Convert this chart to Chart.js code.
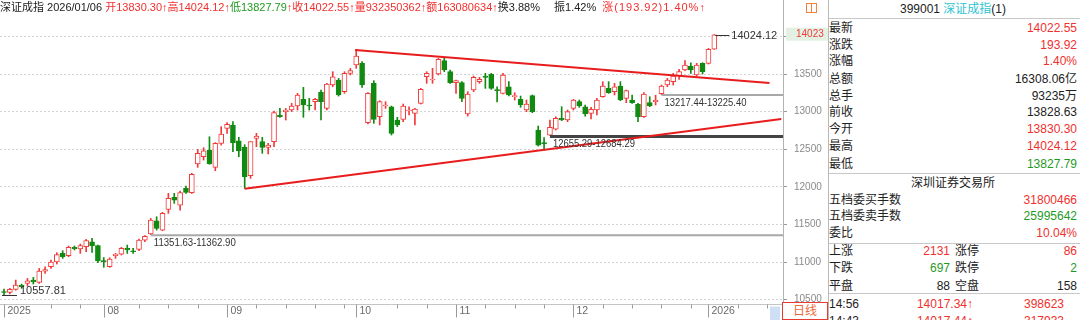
<!DOCTYPE html>
<html><head><meta charset="utf-8">
<script src="https://cdn.jsdelivr.net/npm/chart.js@4.4.1/dist/chart.umd.min.js"></script>
<style>
html,body{margin:0;padding:0;background:#fff;width:1080px;height:320px;overflow:hidden;font-family:"Liberation Sans",Arial,"Noto Sans CJK SC",sans-serif;}
#wrap{position:relative;width:1080px;height:320px;overflow:hidden;}
#c{position:absolute;left:0;top:0;}
#hdr{position:absolute;left:0;top:0;height:15px;line-height:15px;font-size:11px;white-space:nowrap;color:#222;}
.red{color:#f0302e}.grn{color:#1f9a1f}.cy{color:#2ec3d3}
#panel{position:absolute;left:828px;top:0;width:251px;height:320px;border-left:1px solid #b8b8b8;font-size:12px;color:#222;}
.row{position:absolute;left:0;width:248px;height:17px;line-height:17px;white-space:nowrap;}
.row .r{position:absolute;right:0;top:0}
.row .m{position:absolute;top:0}
.sep{position:absolute;left:0;width:251px;height:0;border-top:1px solid #c8c8c8;}
#rx{position:absolute;left:782px;top:302px;width:44px;height:16px;border:1px solid #e83a30;font-size:12px;line-height:16px;text-align:center;color:#ec6a3a;background:#fff;}
#ico{position:absolute;left:806px;top:3px;width:9px;height:8px;border:1px solid #f0823c;}
#ico:after{content:"";position:absolute;left:4px;top:0;width:0;height:8px;border-left:1px solid #f0823c;}
#sb{position:absolute;left:1066px;top:295px;width:12px;height:25px;background:#f2f2f2;border-left:1px solid #bbb;font-size:9px;color:#777;text-align:center;line-height:12px;}
</style>
</head>
<body>
<div id="wrap">
<canvas id="c" width="828" height="320"></canvas>
<div id="hdr"></div>
<div id="ico"></div>
<div id="rx">日线</div>
<div id="panel">
  <div class="row" style="top:1px;text-align:center;">399001 <span class="cy">深证成指</span>(1)</div>
  <div class="sep" style="top:18px"></div>
  <div class="row" style="top:20px">最新<span class="r red">14022.55</span></div>
  <div class="row" style="top:36.5px">涨跌<span class="r red">193.92</span></div>
  <div class="row" style="top:53px">涨幅<span class="r red">1.40%</span></div>
  <div class="row" style="top:70.5px">总额<span class="r">16308.06亿</span></div>
  <div class="row" style="top:87.5px">总手<span class="r">93235万</span></div>
  <div class="row" style="top:104px">前收<span class="r">13828.63</span></div>
  <div class="row" style="top:121px">今开<span class="r red">13830.30</span></div>
  <div class="row" style="top:138px">最高<span class="r red">14024.12</span></div>
  <div class="row" style="top:155.5px">最低<span class="r grn">13827.79</span></div>
  <div class="sep" style="top:173px"></div>
  <div class="row" style="top:175px;text-align:center;">深圳证券交易所</div>
  <div class="row" style="top:191.5px">五档委买手数<span class="r red">31800466</span></div>
  <div class="row" style="top:208px">五档委卖手数<span class="r grn">25995642</span></div>
  <div class="row" style="top:225px">委比<span class="r red">10.04%</span></div>
  <div class="sep" style="top:243px"></div>
  <div class="row" style="top:242.5px">上涨<span class="m red" style="right:127px">2131</span><span class="m" style="left:126px">涨停</span><span class="r red">86</span></div>
  <div class="row" style="top:260px">下跌<span class="m grn" style="right:127px">697</span><span class="m" style="left:126px">跌停</span><span class="r grn">2</span></div>
  <div class="row" style="top:277.5px">平盘<span class="m" style="right:127px">88</span><span class="m" style="left:126px">空盘</span><span class="r">158</span></div>
  <div class="sep" style="top:293px"></div>
  <div class="row" style="top:295.5px">14:56<span class="m red" style="right:104px">14017.34↑</span><span class="r red" style="right:13px">398623</span></div>
  <div class="row" style="top:312.5px">14:43<span class="m red" style="right:104px">14017.44↑</span><span class="r red" style="right:13px">317933</span></div>
  <div id="sb">⇤<br>▲</div>
</div>
</div>
<script>
// ---- data (daily candles, 2025-07 .. 2026-01-06) ----
const opens  = [10605,10596,10636,10690,10716,10760,10729,10880,10937,11000,11115,11084,11195,11173,11204,11270,11217,11020,10937,11084,
11106,11182,11150,11168,11292,11375,11549,11425,11700,11860,11757,11979,11922,12303,12400,12489,12259,12578,12777,12822,
12613,12530,12148,12644,12600,12525,12600,12955,12999,13021,13074,13163,13088,13132,13256,13043,13354,13420,13265,13509,
13620,13642,12853,13376,12932,13074,13065,12888,12897,13008,12977,13110,13464,13420,13500,13677,13531,13385,13385,12968,
13287,13398,13473,13495,13290,13243,13331,13200,13163,13021,13212,12755,12587,12688,12768,12910,12888,13043,13132,13065,
12977,13021,13199,13309,13265,13340,13176,13154,13097,12932,13119,13132,13240,13354,13398,13473,13553,13606,13487,13642,
13642,13830.30];
const highs  = [10640,10650,10760,10706,10782,10796,10915,10937,11026,11124,11150,11213,11213,11239,11301,11314,11226,11060,11057,11115,
11195,11226,11182,11305,11351.63,11580,11602,11660,11913,11913,11944,12010,12179,12498,12520,12666,12587,12800,12853,12866,
12658,12560,12600,12711,12658,12578,13008,13043,13043,13110,13243,13323,13176,13176,13287,13376,13531,13442,13531,13575,
13819,13664,13252,13411,13145,13132,13074,12924,13101,13065,13043,13309,13531,13575,13708,13721,13553,13420,13398,13265,
13473,13455,13509,13509,13330,13509,13398,13252,13207,13154,13221,12808,12655.29,12888,12932,13065,13021,13163,13154,13088,
13057,13176,13398,13398,13376,13398,13287,13221,13110,13252,13198,13217.44,13354,13442,13509,13562,13677,13650,13642,13650,
13840,14024.12];
const lows   = [10557.81,10575,10625,10650,10680,10707,10716,10850,10915,10973,11049,11070,11160,11115,11137,11128,10990,10930,10930,11049,
11093,11115,11115,11150,11270,11362.90,11425,11416,11647,11780,11691,11913,11913,12259,12356,12300,12214,12555,12710,12467,
12400,11979,12112,12533,12445,12436,12533,12924,12888,13000,13021,12924,13021,13021,12888,13021,13331,13207,13243,13487,
13575,13323,12835,12844,12822,13043,12689,12800,12866,12955,12822,13101,13376,13376,13487,13531,13376,13243,13132,12941,
13265,13376,13309,13296,13130,13234,13207,13154,13057,12999,12986,12542,12489,12684.29,12755,12880,12866,13021,13057,12941,
12902,12955,13190,13243,13221,13145,13119,13110,12866,12924,13065,13088,13225.40,13331,13354,13429,13544,13509,13473,13500,
13633,13827.79];
const closes = [10595,10636,10694,10672,10751,10734,10880,10900,11000,11100,11071,11195,11173,11217,11284,11217,11013,11005,11040,11106,
11182,11160,11137,11292,11340,11558,11447,11647,11846,11824,11922,11926,12166,12445,12480,12303,12578,12702,12830,12587,
12480,12134,12600,12675,12525,12555,12986,12932,13021,13074,13220,13088,13074,13163,13132,13367,13464,13221,13509,13544,
13739,13354,13243,12897,13132,13088,12711,12822,13074,13021,13035,13296,13509,13429,13695,13553,13385,13411,13176,13234,
13455,13429,13455,13309,13280,13487,13221,13210,13088,13101,12999,12555,12569,12790,12910,12888,12999,13154,13074,12968,
13030,13154,13340,13252,13331,13154,13278,13119,12932,13234,13074,13150,13340,13420,13473,13531,13620,13553,13620,13531,
13828.63,14022.55];

const monthTickIdx    = [0, 17, 38, 60, 77, 97, 120];
const monthTickLabels = ['2025', '08', '09', '10', '11', '12', '2026'];
const weekTickIdx     = [8, 13, 23, 28, 33, 43, 48, 53, 58, 67, 72, 82, 87, 92, 102, 107, 112, 117, 125, 130];
const yTickValues     = [10500, 11000, 11500, 12000, 12500, 13000, 13500, 14000];

const upperTrendX = [59.8, 130.4];
const upperTrendY = [13819, 13380];
const lowerTrendX = [41, 132.4];
const lowerTrendY = [11975, 12901];

const gapStartIdx = [25, 93, 112];
const gapLow      = [11351.63, 12655.29, 13217.44];
const gapHigh     = [11362.90, 12684.29, 13225.40];

const headerInfo = {name: '深证成指', date: '2026/01/06', vol: '932350362', amt: '163080634', turn: '3.88%', amp: '1.42%', chg: '193.92', pct: '1.40%'};

// ---- settings ----
const X_MIN = -0.68, X_MAX = 132.7, Y_MIN = 10495, Y_MAX = 14258;
const RED = '#f23a3a', GREEN = '#118a11';
const FONT = '"Liberation Sans", Arial, sans-serif';

const last = closes.length - 1;
document.getElementById('hdr').innerHTML =
  headerInfo.name + ' ' + headerInfo.date + ' ' +
  '<span class="red">开' + opens[last].toFixed(2) + '↑高' + highs[last].toFixed(2) + '↑</span>' +
  '<span class="grn">低' + lows[last].toFixed(2) + '</span><span class="red">↑收' + closes[last].toFixed(2) + '↑量' + headerInfo.vol + '↑额' + headerInfo.amt + '↑</span>' +
  '换' + headerInfo.turn + '<span style="margin-left:14px">振' + headerInfo.amp + '</span>' +
  '<span class="red" style="margin-left:6px;letter-spacing:1px">涨(' + headerInfo.chg + ')' + headerInfo.pct + '↑</span>';

const up = closes.map((c, i) => c >= opens[i]);
const bodyData = opens.map((o, i) => ({x: i, y: [o, closes[i]]}));
const wickData = lows.map((l, i) => ({x: i, y: [l, highs[i]]}));

let peakIdx = 0, lowIdx = 0;
highs.forEach((h, i) => { if (h > highs[peakIdx]) peakIdx = i; });
lows.forEach((l, i) => { if (l < lows[lowIdx]) lowIdx = i; });

const gapColors = ['#a8a8a8', '#444444', '#a8a8a8'];
const gapWidths = [2, 3, 2];
const gapSets = gapStartIdx.map((s, k) => {
  const mid = (gapLow[k] + gapHigh[k]) / 2;
  return {type: 'line', data: [{x: s, y: mid}, {x: X_MAX, y: mid}], borderColor: gapColors[k], borderWidth: gapWidths[k], pointRadius: 0, fill: false};
});

const annot = {
  id: 'annot',
  afterDraw(chart) {
    const {ctx, chartArea: a, scales: {x, y}} = chart;
    ctx.save();
    const ax = Math.round(a.right) + 0.5;
    ctx.strokeStyle = '#b4b4b4'; ctx.lineWidth = 1;
    ctx.beginPath(); ctx.moveTo(ax, 0); ctx.lineTo(ax, 320); ctx.stroke();
    const baseY = Math.round(a.bottom) + 4.5;
    ctx.strokeStyle = '#c4c4c4';
    ctx.beginPath(); ctx.moveTo(a.left, baseY); ctx.lineTo(a.right, baseY); ctx.stroke();
    ctx.strokeStyle = '#9a9a9a';
    weekTickIdx.forEach(i => {
      const px = Math.round(x.getPixelForValue(i)) + 0.5;
      ctx.beginPath(); ctx.moveTo(px, baseY); ctx.lineTo(px, baseY + 4); ctx.stroke();
    });
    ctx.font = '10.5px ' + FONT; ctx.fillStyle = '#6a6a6a'; ctx.textBaseline = 'middle'; ctx.textAlign = 'left';
    monthTickIdx.forEach((i, k) => {
      const px = Math.round(x.getPixelForValue(i)) + 0.5;
      ctx.beginPath(); ctx.moveTo(px, baseY); ctx.lineTo(px, baseY + 13); ctx.stroke();
      ctx.fillText(monthTickLabels[k], px + 3, a.bottom + 11.5);
    });
    ctx.fillStyle = '#cfe0f6'; ctx.fillRect(a.right - 13, baseY + 2, 10, 16);
    ctx.strokeStyle = '#333'; ctx.fillStyle = '#333'; ctx.lineWidth = 1;
    let px = x.getPixelForValue(peakIdx), py = Math.round(y.getPixelForValue(highs[peakIdx])) + 0.5;
    ctx.beginPath(); ctx.moveTo(px + 1, py); ctx.lineTo(px + 15, py); ctx.stroke();
    ctx.font = '11px ' + FONT; ctx.textBaseline = 'middle';
    ctx.fillText(highs[peakIdx].toFixed(2), px + 17, py);
    px = x.getPixelForValue(lowIdx); py = Math.round(y.getPixelForValue(lows[lowIdx])) + 0.5;
    ctx.beginPath(); ctx.moveTo(px - 2, py); ctx.lineTo(px + 13, py); ctx.stroke();
    ctx.textBaseline = 'alphabetic';
    ctx.fillText(lows[lowIdx].toFixed(2), px + 16, py - 2);
    ctx.font = '10px ' + FONT; ctx.textBaseline = 'middle'; ctx.fillStyle = '#333';
    gapStartIdx.forEach((s, k) => {
      const gx = x.getPixelForValue(s), gy = y.getPixelForValue((gapLow[k] + gapHigh[k]) / 2);
      ctx.fillText(gapLow[k].toFixed(2) + '-' + gapHigh[k].toFixed(2), gx + 3, gy + 8, 82);
    });
    const ly = y.getPixelForValue(closes[last]);
    ctx.fillStyle = '#e3f1e3'; ctx.fillRect(a.right + 3, ly - 7, 45, 13);
    ctx.fillStyle = RED; ctx.font = '10px ' + FONT; ctx.textBaseline = 'middle';
    ctx.fillText(String(Math.round(closes[last])), a.right + 13, ly);
    ctx.restore();
  }
};

new Chart(document.getElementById('c'), {
  type: 'bar',
  data: {
    datasets: [
      {type: 'line', data: upperTrendX.map((v, i) => ({x: v, y: upperTrendY[i]})), borderColor: '#e81c1c', borderWidth: 2, pointRadius: 0, fill: false},
      {type: 'line', data: lowerTrendX.map((v, i) => ({x: v, y: lowerTrendY[i]})), borderColor: '#e81c1c', borderWidth: 2, pointRadius: 0, fill: false},
      ...gapSets,
      {type: 'bar', data: bodyData, backgroundColor: up.map(u => u ? '#ffffff' : GREEN), borderColor: up.map(u => u ? RED : GREEN),
       borderWidth: 1, borderSkipped: false, barThickness: 5, minBarLength: 1, grouped: false},
      {type: 'bar', data: wickData, backgroundColor: up.map(u => u ? RED : GREEN), borderWidth: 0, barThickness: 1, grouped: false}
    ]
  },
  options: {
    responsive: false, animation: false, devicePixelRatio: 1,
    layout: {padding: {top: 17, bottom: 20, left: 0, right: 0}},
    plugins: {legend: {display: false}, tooltip: {enabled: false}},
    scales: {
      x: {type: 'linear', min: X_MIN, max: X_MAX, display: false, offset: false},
      y: {
        position: 'right', min: Y_MIN, max: Y_MAX,
        afterBuildTicks: s => { s.ticks = yTickValues.map(v => ({value: v})); },
        afterFit: s => { s.width = 45; },
        grid: {color: '#d2d2d2', tickColor: '#999', tickLength: 4, drawTicks: true},
        border: {display: true, color: '#b4b4b4', dash: [2, 2]},
        ticks: {color: '#8a8a8a', font: {size: 10, family: FONT}, padding: 7, callback: v => String(v)}
      }
    }
  },
  plugins: [annot]
});
</script>
</body></html>
